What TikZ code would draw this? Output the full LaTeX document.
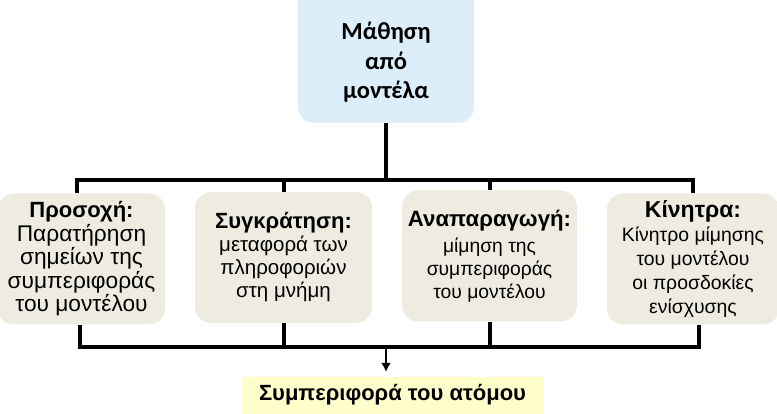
\documentclass[tikz,border=0pt]{standalone}
\usepackage{fontspec}
\setmainfont{Liberation Sans}
\newfontfamily\carlito{Carlito}
\usetikzlibrary{arrows.meta,positioning,calc}
\definecolor{skyfill}{HTML}{DDEEFB}
\definecolor{tanfill}{HTML}{EEECE1}
\definecolor{lemonfill}{HTML}{FFFFCC}

\begin{document}
\begin{tikzpicture}[x=1pt, y=1pt,
  top/.style={fill=skyfill, rounded corners=16pt, minimum width=176pt, minimum height=138pt, align=center, font=\carlito\bfseries\fontsize{24.5}{29.5}\selectfont},
  st/.style={fill=tanfill, rounded corners=16pt, minimum height=131pt, align=center, inner sep=0pt},
  res/.style={fill=lemonfill, minimum width=301pt, minimum height=46pt, text height=15pt, text depth=15pt, font=\bfseries\fontsize{22}{24}\selectfont},
  bus/.style={line width=4pt}
]
\useasboundingbox (0,0) rectangle (777,-414);
\node[top, text height=90pt, text depth=0pt] (model) at (386,-54) {Μάθηση\\ από\\ μοντέλα};
\node[st, minimum width=167pt, font=\fontsize{22.7}{23.5}\selectfont] (att) at (81.5,-259)
  {{\bfseries\fontsize{22}{24}\selectfont Προσοχή:}\\ Παρατήρηση\\ σημείων της\\ συμπεριφοράς\\ του μοντέλου};
\node[st, minimum width=177pt, font=\fontsize{20.5}{23}\selectfont] (ret) at (283.5,-257.5)
  {{\bfseries\fontsize{22}{24}\selectfont Συγκράτηση:}\\ μεταφορά των\\ πληροφοριών\\ στη μνήμη};
\node[st, minimum width=175pt, font=\fontsize{19.3}{23}\selectfont] (rep) at (489.5,-256)
  {{\bfseries\fontsize{22.2}{24}\selectfont Αναπαραγωγή:}\\[3pt] μίμηση της\\ συμπεριφοράς\\ του μοντέλου};
\node[st, minimum width=172pt, font=\fontsize{19.4}{24}\selectfont] (mot) at (693,-259)
  {{\bfseries\fontsize{23}{25}\selectfont Κίνητρα:}\\ Κίνητρο μίμησης\\ του μοντέλου\\ οι προσδοκίες\\ ενίσχυσης};
\node[res] (beh) at (392.5,-400) {Συμπεριφορά του ατόμου};

% upper bus
\coordinate (tl) at (77,-180);
\coordinate (tr) at (693,-180);
\draw[bus] (model.south) -- (model.south |- tl);
\draw[bus, line cap=rect] (tl) -- (tr);
\draw[bus] (tl) -- (tl |- att.north);
\draw[bus] (ret.north |- tl) -- (ret.north);
\draw[bus] (rep.north |- tl) -- (rep.north);
\draw[bus] (tr) -- (tr |- mot.north);

% lower bus
\coordinate (bl) at (80,-347);
\coordinate (br) at (699,-347);
\coordinate (bm) at (386,-347);
\draw[bus] (bl |- att.south) -- (bl);
\draw[bus] (ret.south) -- (ret.south |- bl);
\draw[bus] (rep.south) -- (rep.south |- bl);
\draw[bus] (br |- mot.south) -- (br);
\draw[bus, line cap=rect] (bl) -- (br);
\draw[line width=2.5pt, -{Latex[length=9pt, width=10pt]}, shorten >=5pt] (bm) -- (bm |- beh.north);
\end{tikzpicture}
\end{document}
